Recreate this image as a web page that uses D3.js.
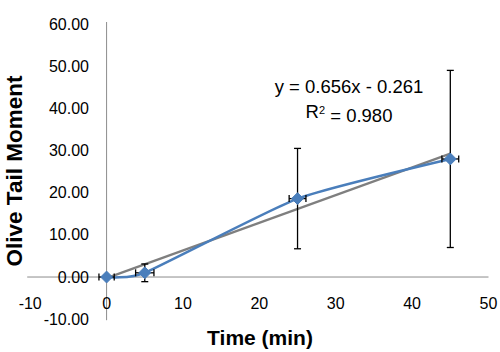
<!DOCTYPE html>
<html>
<head>
<meta charset="utf-8">
<script src="https://cdn.jsdelivr.net/npm/d3@7"></script>
<style>
  body { margin: 0; background: #fff; }
  text { font-family: Arial, "Liberation Sans", sans-serif; }
</style>
</head>
<body>
<div id="chart"></div>
<script>
// data
const times = [0, 5, 25, 45]
const moments = [0, 1.0, 18.6, 28.0]
const yErr = [0, 2.1, 11.9, 21.0]
const xErr = [1, 1.2, 1.1, 1.1]
const xTicks = [-10, 0, 10, 20, 30, 40, 50]
const yTicks = [-10, 0, 10, 20, 30, 40, 50, 60]
const slope = 0.656, intercept = -0.261
const eqText = 'y = 0.656x - 0.261'
const r2Text = '0.980'

const width = 500, height = 352

const svg = d3.select('#chart')
  .append('svg')
  .attr('width', width)
  .attr('height', height)

const x = d3.scaleLinear().domain([-10, 50]).range([30.2, 488.5])
const y = d3.scaleLinear().domain([-10, 60]).range([319.2, 24])

const pts = times.map((t, i) => ({ t: t, v: moments[i], ey: yErr[i], ex: xErr[i] }))

// axes lines (cross at 0,0)
svg.append('line')
  .attr('x1', x(-10) - 3).attr('x2', x(50))
  .attr('y1', y(0)).attr('y2', y(0))
  .style('stroke', '#8c8c8c').style('stroke-width', 1)
svg.append('line')
  .attr('x1', x(0)).attr('x2', x(0))
  .attr('y1', y(60) - 2).attr('y2', y(-10) + 1)
  .style('stroke', '#8c8c8c').style('stroke-width', 1)

// tick labels
svg.selectAll('.ylab')
  .data(yTicks)
  .join('text')
  .attr('class', 'ylab')
  .attr('x', 89)
  .attr('y', d => y(d))
  .attr('dy', '0.35em')
  .attr('text-anchor', 'end')
  .style('font-size', '16px')
  .style('fill', '#000')
  .text(d => d.toFixed(2))

svg.selectAll('.xlab')
  .data(xTicks)
  .join('text')
  .attr('class', 'xlab')
  .attr('x', d => x(d))
  .attr('y', 303)
  .attr('dy', '0.35em')
  .attr('text-anchor', 'middle')
  .style('font-size', '16px')
  .style('fill', '#000')
  .text(d => d)

// axis titles
svg.append('text')
  .attr('transform', `translate(14,${171}) rotate(-90)`)
  .attr('dy', '0.35em')
  .attr('text-anchor', 'middle')
  .style('font-size', '22.5px')
  .style('font-weight', 'bold')
  .text('Olive Tail Moment')

svg.append('text')
  .attr('x', 260)
  .attr('y', 338)
  .attr('dy', '0.35em')
  .attr('text-anchor', 'middle')
  .style('font-size', '21px')
  .style('font-weight', 'bold')
  .text('Time (min)')

// linear trendline
const t0 = d3.min(times), t1 = d3.max(times)
svg.append('line')
  .attr('x1', x(t0)).attr('y1', y(slope * t0 + intercept))
  .attr('x2', x(t1)).attr('y2', y(slope * t1 + intercept))
  .style('stroke', '#7f7f7f')
  .style('stroke-width', 2.2)

// smoothed series line
svg.append('path')
  .datum(pts)
  .attr('d', d3.line().x(d => x(d.t)).y(d => y(d.v)).curve(d3.curveCardinal.tension(0.5)))
  .style('fill', 'none')
  .style('stroke', '#4a7ebb')
  .style('stroke-width', 2.5)

// error bars
const eb = svg.append('g').style('stroke', '#000').style('stroke-width', 1.3)
pts.forEach(d => {
  if (d.ey > 0) {
    eb.append('line').attr('x1', x(d.t)).attr('x2', x(d.t)).attr('y1', y(d.v - d.ey)).attr('y2', y(d.v + d.ey))
    eb.append('line').attr('x1', x(d.t) - 3.5).attr('x2', x(d.t) + 3.5).attr('y1', y(d.v - d.ey)).attr('y2', y(d.v - d.ey))
    eb.append('line').attr('x1', x(d.t) - 3.5).attr('x2', x(d.t) + 3.5).attr('y1', y(d.v + d.ey)).attr('y2', y(d.v + d.ey))
  }
  eb.append('line').attr('x1', x(d.t - d.ex)).attr('x2', x(d.t + d.ex)).attr('y1', y(d.v)).attr('y2', y(d.v))
  eb.append('line').attr('x1', x(d.t - d.ex)).attr('x2', x(d.t - d.ex)).attr('y1', y(d.v) - 3.5).attr('y2', y(d.v) + 3.5)
  eb.append('line').attr('x1', x(d.t + d.ex)).attr('x2', x(d.t + d.ex)).attr('y1', y(d.v) - 3.5).attr('y2', y(d.v) + 3.5)
})

// diamond markers
svg.selectAll('.marker')
  .data(pts)
  .join('path')
  .attr('class', 'marker')
  .attr('transform', d => `translate(${x(d.t)},${y(d.v)})`)
  .attr('d', d3.symbol().type(d3.symbolDiamond2).size(90))
  .style('fill', '#4a7ebb')
  .style('stroke', '#4a7ebb')

// trendline equation
svg.append('text')
  .attr('x', 349).attr('y', 87).attr('dy', '0.35em')
  .attr('text-anchor', 'middle')
  .style('font-size', '18.5px')
  .text(eqText)

const r2 = svg.append('text')
  .attr('x', 349).attr('y', 112).attr('dy', '0.35em')
  .attr('text-anchor', 'middle')
  .style('font-size', '18.5px')
r2.append('tspan').text('R')
r2.append('tspan').attr('dy', '-0.45em').style('font-size', '11px').text('2')
r2.append('tspan').attr('dy', '0.45em').text(' = ' + r2Text)
</script>
</body>
</html>
